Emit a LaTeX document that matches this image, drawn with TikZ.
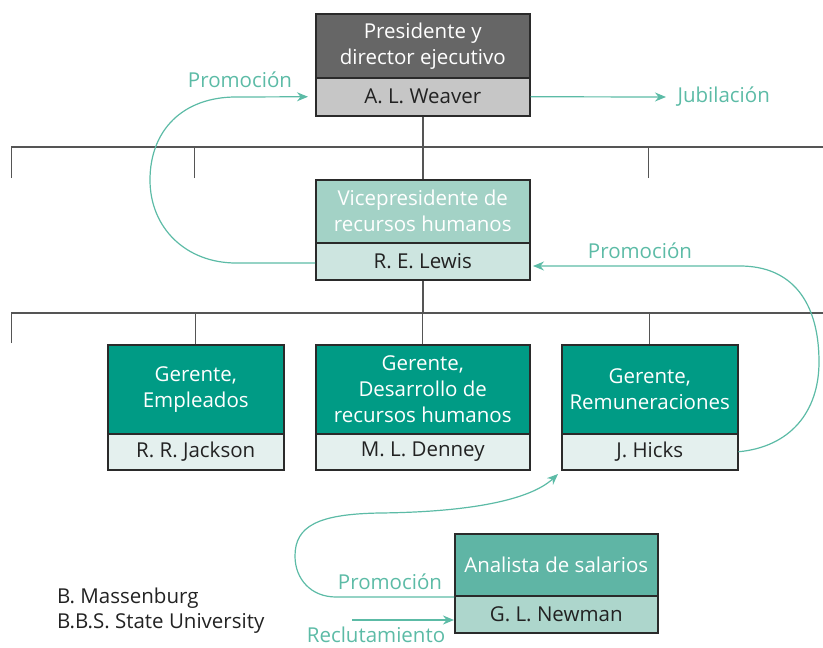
\documentclass[tikz,border=0pt]{standalone}
\usepackage{fontspec}
\setmainfont{Open Sans}
\usetikzlibrary{arrows.meta}
\definecolor{presTop}{HTML}{666666}
\definecolor{presBot}{HTML}{C6C6C6}
\definecolor{vpTop}{HTML}{A3D2C6}
\definecolor{vpBot}{HTML}{CDE5E0}
\definecolor{mgrTop}{HTML}{009B85}
\definecolor{mgrBot}{HTML}{E4F0EE}
\definecolor{anTop}{HTML}{5FB5A5}
\definecolor{anBot}{HTML}{ADD6CC}
\definecolor{flow}{HTML}{5CBBA6}
\definecolor{boxline}{HTML}{2A2A2A}
\definecolor{orgline}{HTML}{555555}
\definecolor{txt}{HTML}{222222}
\newcommand{\boxfont}{\fontsize{20.5}{26}\selectfont}
\tikzset{
  x=1pt, y=-1pt,
  boxpart/.style={draw=boxline, line width=1.5pt, anchor=north west, inner sep=0pt, align=center, font=\boxfont},
  toppart/.style={boxpart, text=white},
  botpart/.style={boxpart, text=txt},
  orgmain/.style={draw=orgline, line width=1.8pt},
  orgtick/.style={draw=orgline, line width=1pt},
  flowline/.style={draw=flow, line width=1.2pt, -{Stealth[length=11pt,width=9pt]}},
  flowlabel/.style={text=flow, font=\boxfont},
}
\begin{document}
\begin{tikzpicture}
\useasboundingbox (0,0) rectangle (823,648);
% org lines
\coordinate (h1l) at (11,147);
\coordinate (h1r) at (823,147);
\coordinate (h2l) at (11,313);
\coordinate (h2r) at (823,313);
\coordinate (t1a) at (11,178);
\coordinate (t1b) at (194,178);
\coordinate (t1c) at (648,178);
\coordinate (t2a) at (11,343);
% boxes
\node[toppart, fill=presTop, minimum width=214pt, minimum height=64pt] (prest) at (315,13) {Presidente y\\director ejecutivo};
\node[botpart, fill=presBot, minimum width=214pt, minimum height=38pt] (presb) at (315,77) {A. L. Weaver};
\node[toppart, fill=vpTop, minimum width=214pt, minimum height=63pt] (vpt) at (315,179) {Vicepresidente de\\recursos humanos};
\node[botpart, fill=vpBot, minimum width=214pt, minimum height=37pt] (vpb) at (315,242) {R. E. Lewis};
\node[toppart, fill=mgrTop, minimum width=176pt, minimum height=89pt] (m1t) at (107,344) {Gerente,\\Empleados};
\node[botpart, fill=mgrBot, minimum width=176pt, minimum height=36pt] (m1b) at (107,433) {R. R. Jackson};
\node[toppart, fill=mgrTop, minimum width=214pt, minimum height=89pt] (m2t) at (315,344) {Gerente,\\Desarrollo de\\recursos humanos};
\node[botpart, fill=mgrBot, minimum width=214pt, minimum height=36pt] (m2b) at (315,433) {M. L. Denney};
\node[toppart, fill=mgrTop, minimum width=176pt, minimum height=89pt] (m3t) at (561,344) {Gerente,\\Remuneraciones};
\node[botpart, fill=mgrBot, minimum width=176pt, minimum height=36pt] (m3b) at (561,433) {J. Hicks};
\node[toppart, fill=anTop, minimum width=203pt, minimum height=62pt] (ant) at (454,533) {Analista de salarios};
\node[botpart, fill=anBot, minimum width=203pt, minimum height=37pt] (anb) at (454,595) {G. L. Newman};
% org connectors
\draw[orgmain] (presb.south) -- (vpt.north);
\draw[orgmain] (h1l) -- (h1r);
\draw[orgtick] (t1a) -- (h1l);
\draw[orgtick] (t1b) -- (t1b |- h1l);
\draw[orgtick] (t1c) -- (t1c |- h1l);
\draw[orgmain] (vpb.south) -- (vpb.south |- h2l);
\draw[orgmain] (h2l) -- (h2r);
\draw[orgtick] (t2a) -- (h2l);
\draw[orgtick] (m1t.north) -- (m1t.north |- h2l);
\draw[orgtick] (m2t.north) -- (m2t.north |- h2l);
\draw[orgtick] (m3t.north) -- (m3t.north |- h2l);
% flows
\coordinate (jub) at (666,97);
\draw[flowline] (presb.east) -- (jub);
\node[flowlabel, anchor=west] (jubl) at (674,97) {Jubilación};
\coordinate (lw) at (315,263);
\draw[flowline] (lw) -- (236,263) .. controls (186,263) and (150,228) .. (150,180) .. controls (150,130) and (183,97) .. (236,97) -- ([xshift=-7pt]presb.west);
\node[flowlabel] (p1) at (240,80) {Promoción};
\coordinate (le) at (533,266);
\draw[flowline] (m3b.east) .. controls (790,447) and (819,412) .. (819,362) .. controls (819,302) and (792,266) .. (740,266) -- (le);
\node[flowlabel] (p2) at (640,251) {Promoción};
\coordinate (nw) at (454,597);
\coordinate (ht) at (558,474);
\draw[flowline] (nw) -- (336,597) .. controls (311,597) and (295,579) .. (295,556) .. controls (295,526) and (318,514) .. (380,513) .. controls (470,512) and (530,500) .. (ht);
\node[flowlabel] (p3) at (390,582) {Promoción};
\coordinate (recs) at (352,620);
\draw[draw=flow, line width=2.6pt, -{Stealth[length=11pt,width=9pt]}] (recs) -- (anb.west |- recs);
\node[flowlabel] (rec) at (376,635) {Reclutamiento};
\node[anchor=north west, align=left, text=txt, font=\fontsize{20.5}{25}\selectfont, inner sep=0pt] (auth) at (57,588) {B. Massenburg\\B.B.S. State University};
\end{tikzpicture}
\end{document}
